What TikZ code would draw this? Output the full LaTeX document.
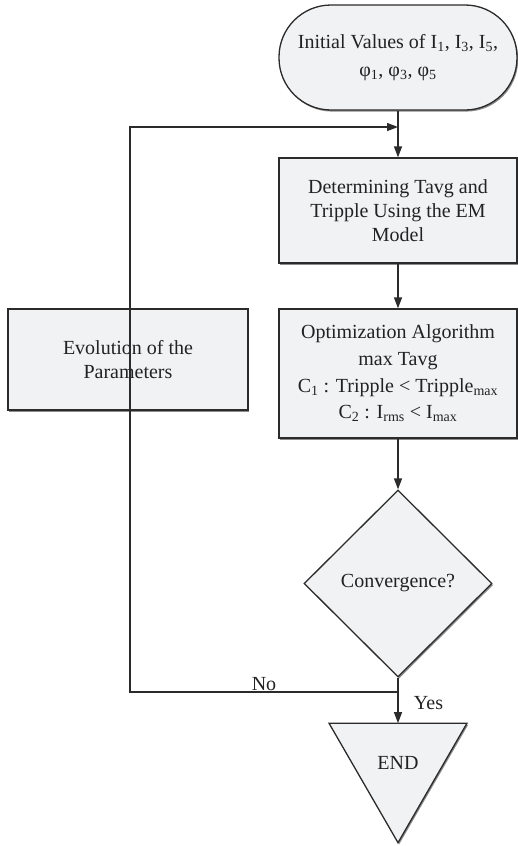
\documentclass[tikz,border=0pt]{standalone}
\usepackage{fontspec}
\setmainfont{Liberation Serif}
\usetikzlibrary{shapes.geometric, shadows, arrows.meta}
\definecolor{boxfill}{HTML}{F1F2F4}
\definecolor{boxline}{HTML}{2B2B2B}
\definecolor{txt}{HTML}{222222}
\begin{document}
\begin{tikzpicture}[x=1pt,y=-1pt]

\tikzset{block/.style = {shape=rectangle, draw=boxline, fill=boxfill, line width=1.3pt, align=center, text=txt,
  font=\fontsize{20}{24}\selectfont, inner sep=0pt,
  drop shadow={shadow xshift=1.2pt, shadow yshift=-1.6pt, fill=black!45, opacity=1}}}
\tikzset{edge/.style = {line width=1.3pt, draw=boxline, -{Triangle[length=11pt,width=8pt]}}}
\tikzset{lbl/.style = {text=txt, font=\fontsize{20}{24}\selectfont}}

\useasboundingbox (0,0) rectangle (517,846);

%nodes
\node[block, rounded corners=52pt, minimum width=238, minimum height=105] (init) at (398,57.5)
  {Initial Values of I\textsubscript{1}, I\textsubscript{3}, I\textsubscript{5},\\[4pt] φ\textsubscript{1}, φ\textsubscript{3}, φ\textsubscript{5}};
\node[block, minimum width=238, minimum height=105] (model) at (398,210.5)
  {Determining Tavg and\\Tripple Using the EM\\Model};
\node[block, minimum width=238, minimum height=129] (optim) at (398,373.5)
  {Optimization Algorithm\\[3pt]max Tavg\\[3pt]C\textsubscript{1} : Tripple < Tripple\textsubscript{max}\\[2pt]C\textsubscript{2} : I\textsubscript{rms} < I\textsubscript{max}};
\node[block, minimum width=240, minimum height=101] (evol) at (128,359.5)
  {Evolution of the\\Parameters};
\node[block, shape=diamond, drop shadow={opacity=0}, minimum width=188, minimum height=187] (conv) at (398,583.5)
  {Convergence?};
\node[block, shape=regular polygon, regular polygon sides=3, shape border rotate=180, drop shadow={opacity=0},
  minimum size=159.4, outer sep=0pt] (end) at (398,763) {END};

\coordinate (split) at (398,692);
\coordinate (nocorner) at (130,692);
\coordinate (upcorner) at (130,127);
\coordinate (merge) at (398,127);

%edges
\draw[edge] (init) -- (model);
\draw[edge] (model) -- (optim);
\draw[edge] (optim) -- (conv.north);
\draw[line width=1.3pt, draw=boxline] (conv.south) -- (split);
\draw[edge] (split) -- node[lbl, pos=0.35, anchor=west, xshift=12pt] {Yes} (end);
\draw[edge] (split) -- node[lbl, above, inner sep=1pt] {No} (nocorner) -- (upcorner) -- (merge);

\end{tikzpicture}
\end{document}
